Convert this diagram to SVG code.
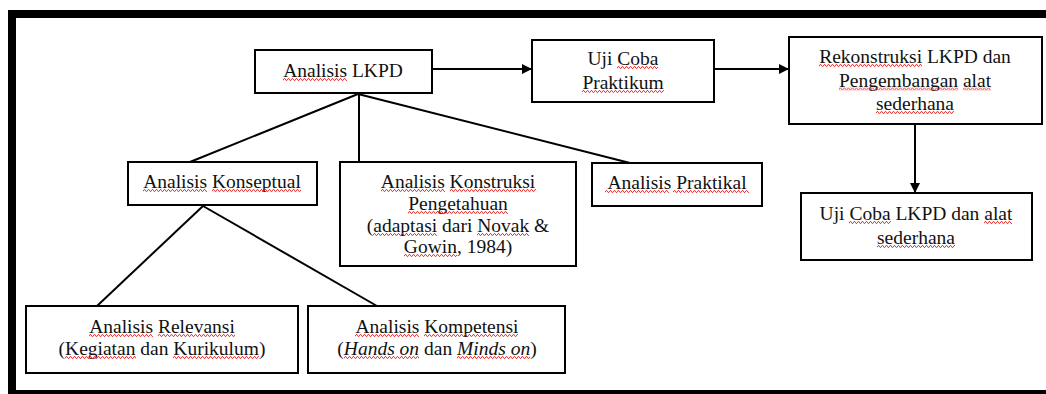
<svg xmlns="http://www.w3.org/2000/svg" width="1046" height="394" viewBox="0 0 1046 394">
<style>
.box{fill:#fff;stroke:#000;stroke-width:2}
.t{font-family:"Liberation Serif","Times New Roman",serif;font-size:19.5px;fill:#111;text-anchor:middle}
.c{stroke:#000;stroke-width:2;fill:none}
.border{fill:#000}
.sq{fill:url(#squig)}
</style>
<defs>
<marker id="ah" markerWidth="10" markerHeight="10" refX="9" refY="5" orient="auto" markerUnits="userSpaceOnUse">
<path d="M0,0 L10,5 L0,10 Z" fill="#000"/>
</marker>
<pattern id="squig" patternUnits="userSpaceOnUse" width="4" height="3">
<polyline points="0,2.4 1,0.6 2,0.6 3,2.4 4,2.4" fill="none" stroke="#e82a2a" stroke-width="0.9"/>
</pattern>
</defs>
<rect width="1046" height="394" fill="#fff"/>
<g id="frame">
<rect class="border" x="8" y="10" width="1038" height="8"/>
<rect class="border" x="8" y="10" width="8" height="384"/>
<rect class="border" x="8" y="390" width="1038" height="4"/>
</g>
<g id="connectors">
<line class="c" x1="432" y1="69" x2="531" y2="69" marker-end="url(#ah)"/>
<line class="c" x1="714" y1="69" x2="788" y2="69" marker-end="url(#ah)"/>
<line class="c" x1="915" y1="124" x2="915" y2="192" marker-end="url(#ah)"/>
<line class="c" x1="358" y1="94" x2="190" y2="162"/>
<line class="c" x1="359" y1="94" x2="359" y2="162"/>
<line class="c" x1="358" y1="94" x2="630" y2="163"/>
<line class="c" x1="203" y1="206" x2="97" y2="306"/>
<line class="c" x1="203" y1="206" x2="377" y2="306"/>
</g>
<g id="n-lkpd">
<rect class="box" x="255" y="50" width="177" height="43"/>
<text class="t" x="343" y="77">Analisis LKPD</text>
<rect class="sq" transform="translate(283,78)" width="64" height="3"/>
</g>
<g id="n-ujicoba">
<rect class="box" x="532" y="40" width="182" height="62"/>
<text class="t" x="623" y="65">Uji Coba</text>
<text class="t" x="623" y="89">Praktikum</text>
<rect class="sq" transform="translate(617,66)" width="41" height="3"/>
<rect class="sq" transform="translate(582,90)" width="82" height="3"/>
</g>
<g id="n-rekonstruksi">
<rect class="box" x="789" y="37" width="253" height="87"/>
<text class="t" x="915" y="63">Rekonstruksi LKPD dan</text>
<text class="t" x="915" y="86.5">Pengembangan alat</text>
<text class="t" x="915" y="110">sederhana</text>
<rect class="sq" transform="translate(819,64)" width="103" height="3"/>
<rect class="sq" transform="translate(839,87.5)" width="119" height="3"/>
<rect class="sq" transform="translate(963,87.5)" width="28" height="3"/>
<rect class="sq" transform="translate(876,111)" width="78" height="3"/>
</g>
<g id="n-konseptual">
<rect class="box" x="128" y="162" width="189" height="43"/>
<text class="t" x="222" y="188">Analisis Konseptual</text>
<rect class="sq" transform="translate(143,189)" width="64" height="3"/>
<rect class="sq" transform="translate(212,189)" width="89" height="3"/>
</g>
<g id="n-konstruksi">
<rect class="box" x="340" y="162" width="236" height="104"/>
<text class="t" x="458" y="188">Analisis Konstruksi</text>
<text class="t" x="458" y="210">Pengetahuan</text>
<text class="t" x="458" y="232">(adaptasi dari Novak &amp;</text>
<text class="t" x="458" y="253">Gowin, 1984)</text>
<rect class="sq" transform="translate(381,189)" width="64" height="3"/>
<rect class="sq" transform="translate(450,189)" width="86" height="3"/>
<rect class="sq" transform="translate(408,211)" width="100" height="3"/>
<rect class="sq" transform="translate(373,233)" width="64" height="3"/>
<rect class="sq" transform="translate(477,233)" width="52" height="3"/>
<rect class="sq" transform="translate(404,254)" width="53" height="3"/>
</g>
<g id="n-praktikal">
<rect class="box" x="592" y="163" width="170" height="43"/>
<text class="t" x="677" y="189">Analisis Praktikal</text>
<rect class="sq" transform="translate(605,190)" width="64" height="3"/>
<rect class="sq" transform="translate(673,190)" width="76" height="3"/>
</g>
<g id="n-ujilkpd">
<rect class="box" x="801" y="193" width="231" height="67"/>
<text class="t" x="916" y="220">Uji Coba LKPD dan alat</text>
<text class="t" x="916" y="244">sederhana</text>
<rect class="sq" transform="translate(849,221)" width="42" height="3"/>
<rect class="sq" transform="translate(984,221)" width="28" height="3"/>
<rect class="sq" transform="translate(877,245)" width="78" height="3"/>
</g>
<g id="n-relevansi">
<rect class="box" x="26" y="306" width="272" height="67"/>
<text class="t" x="162" y="333">Analisis Relevansi</text>
<text class="t" x="162" y="355">(Kegiatan dan Kurikulum)</text>
<rect class="sq" transform="translate(89,334)" width="64" height="3"/>
<rect class="sq" transform="translate(158,334)" width="77" height="3"/>
<rect class="sq" transform="translate(65,356)" width="71" height="3"/>
<rect class="sq" transform="translate(173,356)" width="86" height="3"/>
</g>
<g id="n-kompetensi">
<rect class="box" x="308" y="306" width="257" height="67"/>
<text class="t" x="437" y="333">Analisis Kompetensi</text>
<text class="t" x="437" y="355">(<tspan font-style="italic">Hands on</tspan> dan <tspan font-style="italic">Minds on</tspan>)</text>
<rect class="sq" transform="translate(355,334)" width="64" height="3"/>
<rect class="sq" transform="translate(424,334)" width="94" height="3"/>
<rect class="sq" transform="translate(344,356)" width="75" height="3"/>
<rect class="sq" transform="translate(457,356)" width="73" height="3"/>
</g>
</svg>
